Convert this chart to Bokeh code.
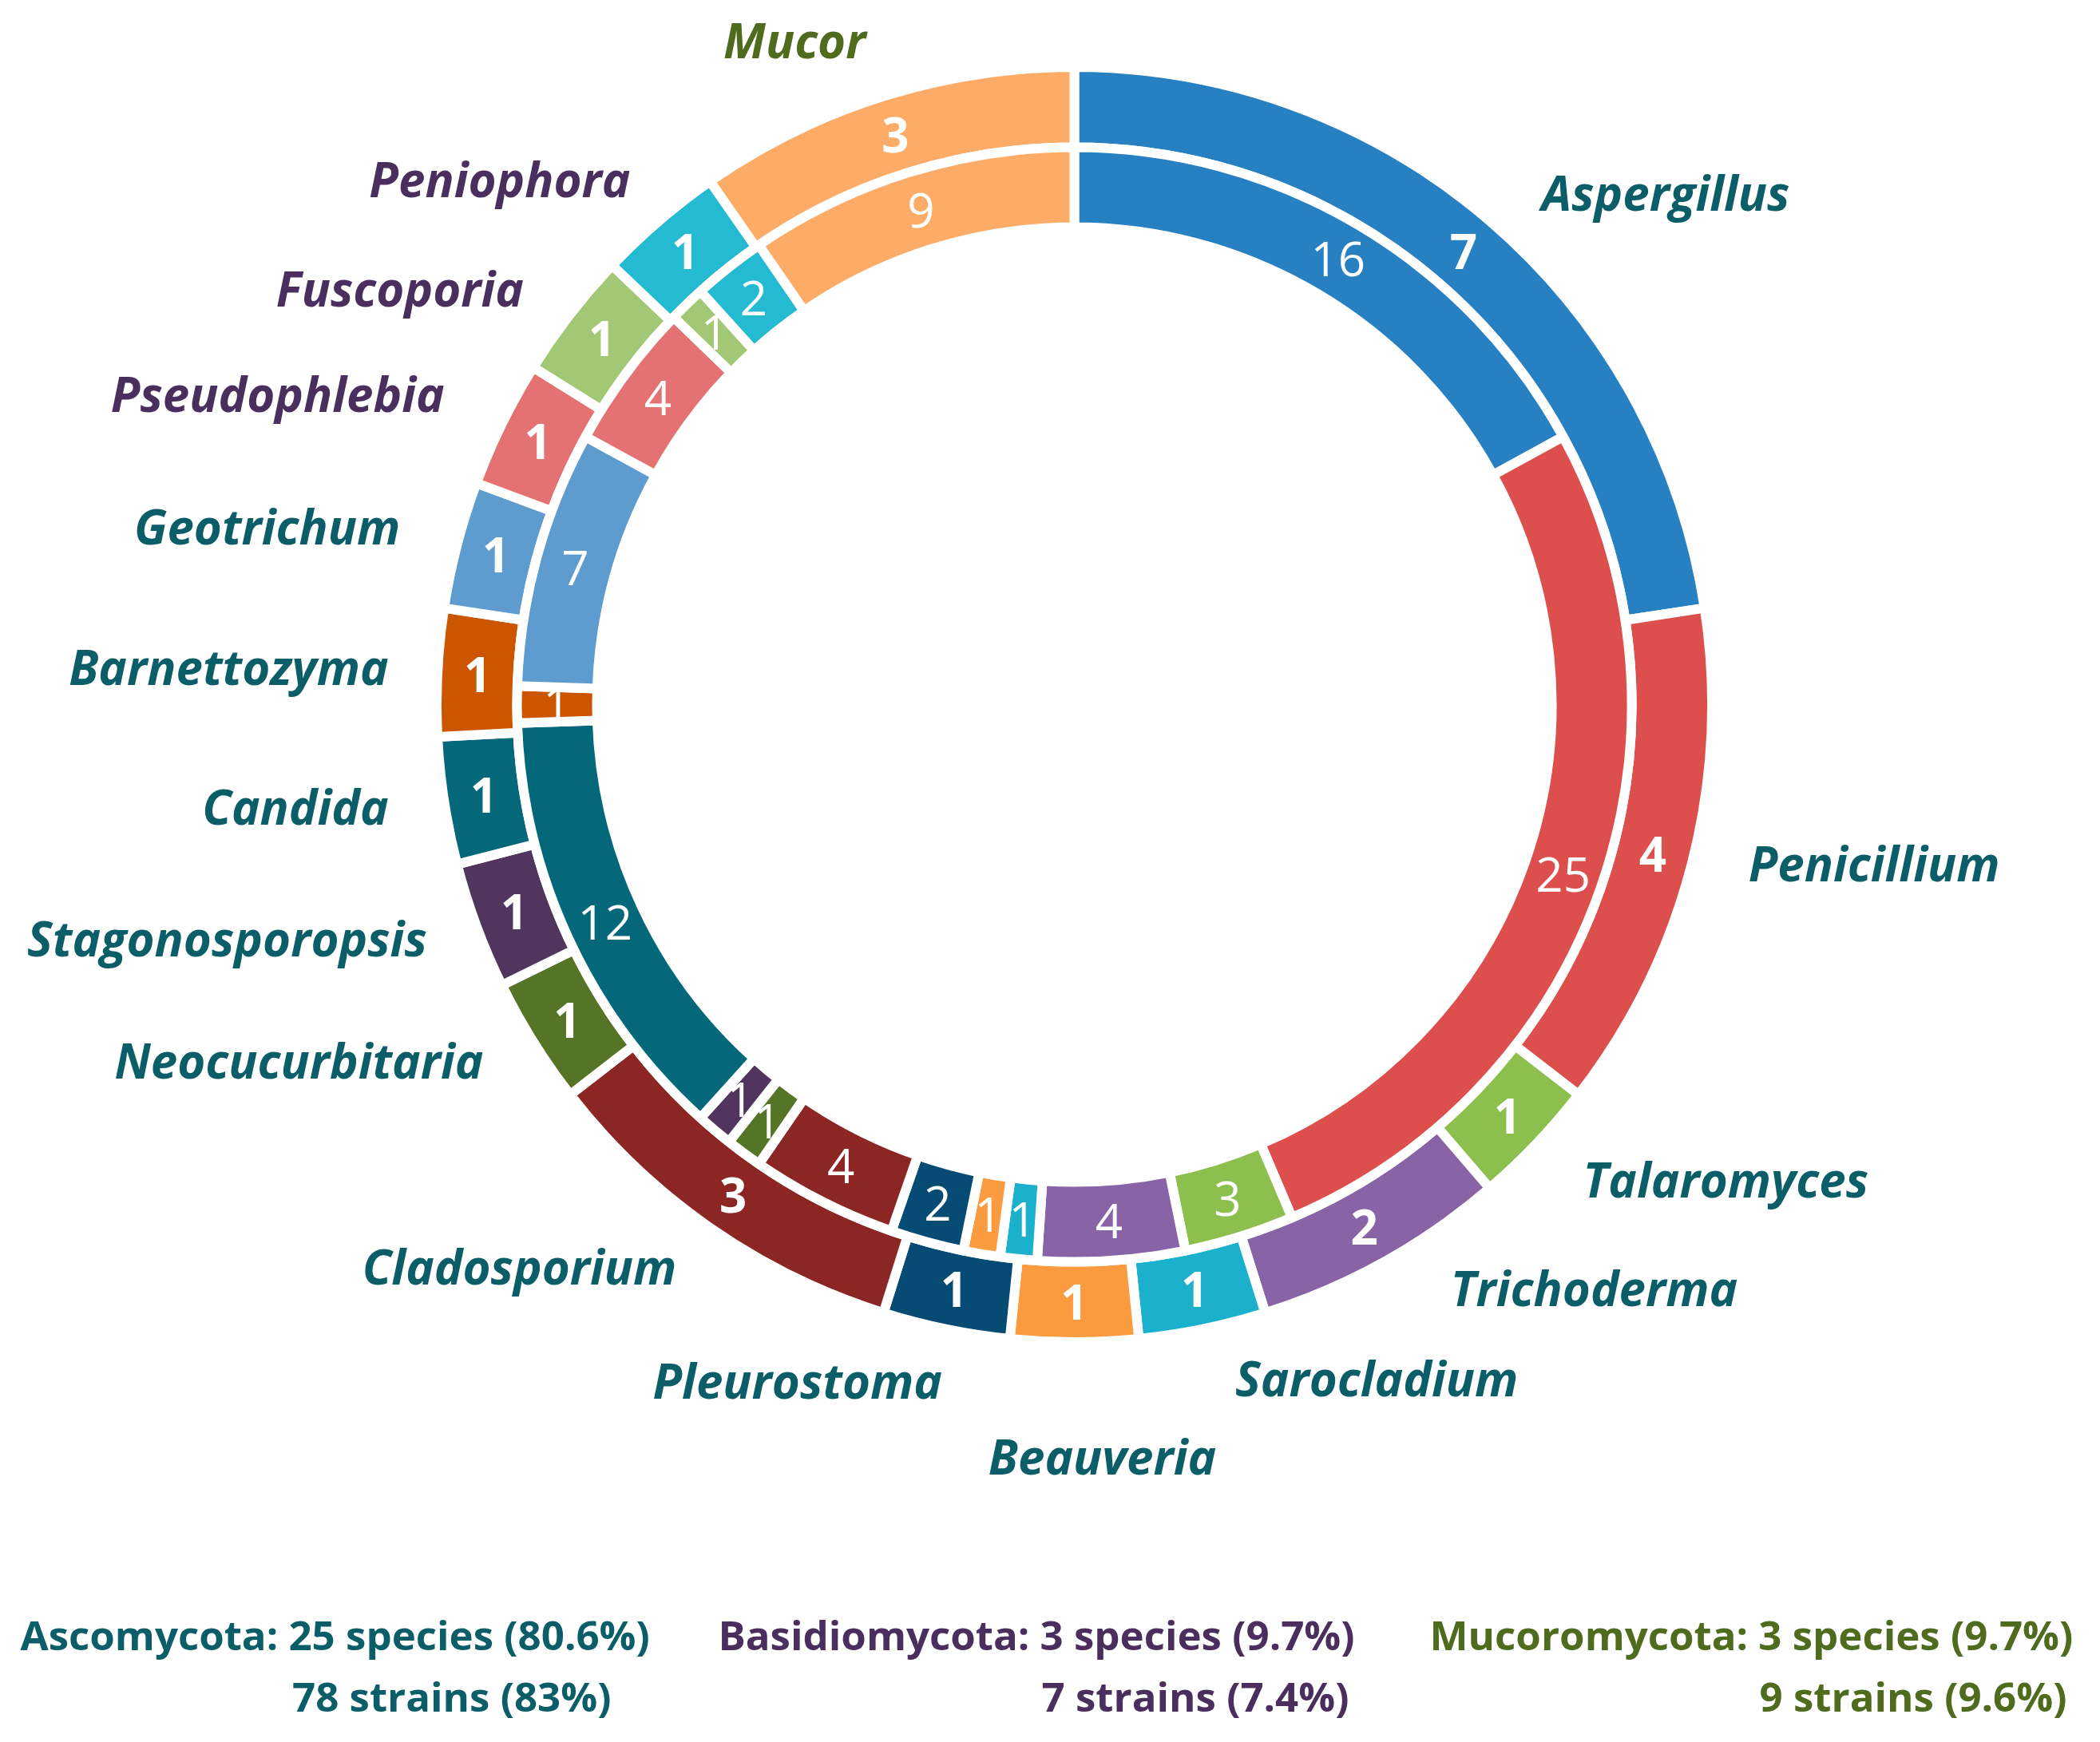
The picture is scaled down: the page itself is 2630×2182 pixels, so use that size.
import math
from bokeh.plotting import figure
from bokeh.models import Range1d, ColumnDataSource
from bokeh.embed import file_html
from bokeh.resources import INLINE
from bokeh.core.properties import value

# ---------------- data ----------------
genera = ["Aspergillus", "Penicillium", "Talaromyces", "Trichoderma", "Sarocladium",
          "Beauveria", "Pleurostoma", "Cladosporium", "Neocucurbitaria", "Stagonosporopsis",
          "Candida", "Barnettozyma", "Geotrichum", "Pseudophlebia", "Fuscoporia",
          "Peniophora", "Mucor"]
species = [7, 4, 1, 2, 1, 1, 1, 3, 1, 1, 1, 1, 1, 1, 1, 1, 3]
strains = [16, 25, 3, 4, 1, 1, 2, 4, 1, 1, 12, 1, 7, 4, 1, 2, 9]
phylum = ["Ascomycota"] * 13 + ["Basidiomycota"] * 3 + ["Mucoromycota"]
phyla = ["Ascomycota", "Basidiomycota", "Mucoromycota"]

# ---------------- styles ----------------
seg_colors = ["#2680C2", "#DC4F4D", "#8DBF4F", "#8864A6", "#1BB0CB",
              "#FB9B3F", "#054B73", "#8B2624", "#557425", "#50365F",
              "#04687A", "#CC5500", "#5E9BCF", "#E57272", "#A2C775",
              "#24BAD1", "#FDAC68"]
phylum_colors = {"Ascomycota": "#0B5E68", "Basidiomycota": "#4A2F5E", "Mucoromycota": "#4E6B1E"}
FONT = "Open Sans"

W, H = 2614, 2166
cx, cy = 1345, -882          # ring centre (data units = pixels)
R_OUT = (698, 798.5)         # species ring
R_IN = (598, 698)            # strains ring
GAP = 12                     # white separators
R_LAB = 872                  # genus label radius
label_nudge = {"Aspergillus": (17, 20), "Penicillium": (0, -20), "Talaromyces": (5, -6),
               "Trichoderma": (48, -32), "Sarocladium": (26, -11), "Beauveria": (35, 69),
               "Pleurostoma": (10, -8), "Cladosporium": (0, -12), "Neocucurbitaria": (0, -16),
               "Stagonosporopsis": (7, -10), "Candida": (3, -5), "Barnettozyma": (12, -3),
               "Geotrichum": (0, -5), "Pseudophlebia": (-6, -5), "Fuscoporia": (0, 12),
               "Peniophora": (12, 3)}


def ring(vals):
    tot = float(sum(vals))
    starts, ends, mids = [], [], []
    acc = 0.0
    for v in vals:
        t1 = acc / tot * 2 * math.pi
        acc += v
        t2 = acc / tot * 2 * math.pi
        starts.append(math.pi / 2 - t2)
        ends.append(math.pi / 2 - t1)
        mids.append((t1 + t2) / 2)
    return starts, ends, mids


p = figure(width=W, height=H, output_backend="svg", toolbar_location=None,
           x_range=Range1d(0, W), y_range=Range1d(-H, 0),
           x_axis_type=None, y_axis_type=None, title=None,
           min_border=0, outline_line_color=None, background_fill_color="white")
p.grid.visible = False

for vals, (r0, r1), bold in ((species, R_OUT, True), (strains, R_IN, False)):
    s, e, m = ring(vals)
    src = ColumnDataSource(dict(start=s, end=e, color=seg_colors))
    p.annular_wedge(x=cx, y=cy, inner_radius=r0, outer_radius=r1,
                    start_angle="start", end_angle="end", direction="anticlock",
                    fill_color="color", line_color="white", line_width=GAP, source=src)
    rl = (r0 + r1) / 2
    tsrc = ColumnDataSource(dict(x=[cx + rl * math.sin(t) for t in m],
                                 y=[cy + rl * math.cos(t) for t in m],
                                 t=[str(v) for v in vals]))
    p.text(x="x", y="y", text="t", source=tsrc, text_color="white",
           text_font=value(FONT), text_font_size="60px",
           text_font_style="bold" if bold else "normal",
           text_align="center", text_baseline="middle")

# genus labels
_, _, mids = ring(species)
for g, t, ph in zip(genera, mids, phylum):
    sn = math.sin(t)
    x = cx + R_LAB * sn
    y = cy + R_LAB * math.cos(t)
    dx, dy = label_nudge.get(g, (0, 0))
    x += dx
    y -= dy
    align = "left" if sn > 0.15 else ("right" if sn < -0.15 else "center")
    p.text(x=[x], y=[y], text=[g], text_color=phylum_colors[ph],
           text_font=value(FONT), text_font_size="60px", text_font_style="bold italic",
           text_align=align, text_baseline="middle")


# phylum summary
def pct(a, b):
    return f"{100.0 * a / b:.1f}".rstrip("0").rstrip(".") + "%"


tot_sp, tot_st = sum(species), sum(strains)
line1_left = [25, 899, 1790]
line2_right = [765, 1689, 2588]
for i, ph in enumerate(phyla):
    nsp = sum(v for v, q in zip(species, phylum) if q == ph)
    nst = sum(v for v, q in zip(strains, phylum) if q == ph)
    l1 = f"{ph}: {nsp} species ({pct(nsp, tot_sp)})"
    l2 = f"{nst} strains ({pct(nst, tot_st)})"
    p.text(x=[line1_left[i]], y=[-2046], text=[l1], text_color=phylum_colors[ph],
           text_font=value(FONT), text_font_size="51px", text_font_style="bold",
           text_align="left", text_baseline="alphabetic")
    p.text(x=[line2_right[i]], y=[-2123], text=[l2], text_color=phylum_colors[ph],
           text_font=value(FONT), text_font_size="51px", text_font_style="bold",
           text_align="right", text_baseline="alphabetic")

open("out.html", "w").write(file_html(p, INLINE))
